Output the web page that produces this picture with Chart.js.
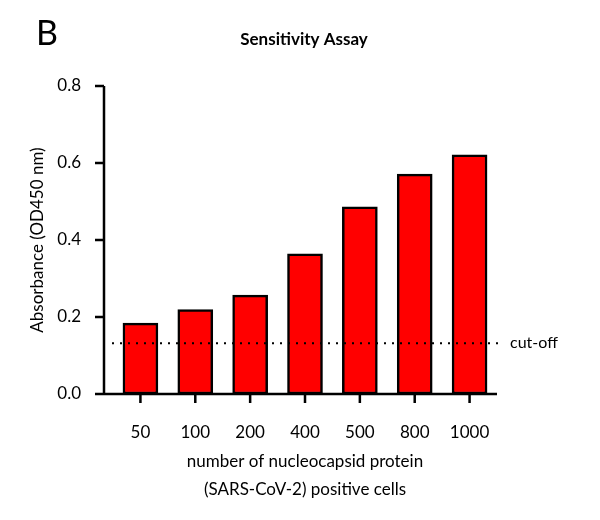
<!DOCTYPE html>
<html>
<head>
<script src="https://cdn.jsdelivr.net/npm/chart.js@4"></script>
<style>body{margin:0;background:#fff}</style>
</head>
<body>
<canvas id="c" width="600" height="520"></canvas>
<script>
const cells = ['50', '100', '200', '400', '500', '800', '1000'];
const absorbance = [0.184, 0.219, 0.257, 0.364, 0.486, 0.571, 0.621];
const cutOff = 0.132;
const yTicks = [0, 0.2, 0.4, 0.6, 0.8];

const font = 'Lato, "DejaVu Sans", sans-serif';

// axes, cut-off line and extra text drawn by hand
const decor = {
  id: 'decor',
  afterDraw(chart) {
    const ctx = chart.ctx, a = chart.chartArea;
    const x = chart.scales.x, y = chart.scales.y;
    const ax = a.left - 9;
    ctx.save();
    ctx.strokeStyle = '#000';
    ctx.lineWidth = 2.5;
    ctx.beginPath();
    ctx.moveTo(ax, y.getPixelForValue(0.8));
    ctx.lineTo(ax, a.bottom);
    ctx.lineTo(a.right, a.bottom);
    yTicks.forEach(v => {
      const py = y.getPixelForValue(v);
      ctx.moveTo(ax - 9, py); ctx.lineTo(ax, py);
    });
    cells.forEach((c, i) => {
      const px = x.getPixelForValue(i);
      ctx.moveTo(px, a.bottom); ctx.lineTo(px, a.bottom + 9);
    });
    ctx.stroke();

    const cy = y.getPixelForValue(cutOff);
    ctx.lineWidth = 2;
    ctx.setLineDash([2, 6]);
    ctx.beginPath();
    ctx.moveTo(ax + 8, cy); ctx.lineTo(a.right + 4, cy);
    ctx.stroke();
    ctx.setLineDash([]);

    ctx.fillStyle = '#000';
    ctx.textBaseline = 'middle';
    ctx.font = '16px ' + font;
    ctx.fillText('cut-off', 510, cy);
    ctx.font = '34px ' + font;
    ctx.fillText('B', 36, 34);
    ctx.font = 'bold 17px ' + font;
    ctx.textAlign = 'center';
    ctx.fillText('Sensitivity Assay', 304, 40);
    ctx.font = '17px ' + font;
    ctx.fillText('number of nucleocapsid protein', 305, 462);
    ctx.fillText('(SARS-CoV-2) positive cells', 305, 490);
    ctx.translate(38, 240);
    ctx.rotate(-Math.PI / 2);
    ctx.fillText('Absorbance (OD450 nm)', 0, 0);
    ctx.restore();
  }
};

new Chart(document.getElementById('c'), {
  type: 'bar',
  data: {
    labels: cells,
    datasets: [{
      data: absorbance,
      backgroundColor: '#ff0000',
      borderColor: '#000',
      borderWidth: 2.5,
      borderSkipped: false,
      barThickness: 35
    }]
  },
  options: {
    responsive: false,
    animation: false,
    layout: { padding: { top: 86, right: 103, left: 0, bottom: 0 } },
    plugins: { legend: { display: false }, tooltip: { enabled: false } },
    scales: {
      x: {
        grid: { display: false }, border: { display: false },
        ticks: { color: '#000', font: { size: 17, family: font }, padding: 20 },
        afterFit(s) { s.height = 126; }
      },
      y: {
        min: 0, max: 0.8,
        grid: { display: false }, border: { display: false },
        ticks: {
          color: '#000', font: { size: 17, family: font }, padding: 24,
          stepSize: 0.2, callback: v => v.toFixed(1)
        },
        afterFit(s) { s.width = 113; }
      }
    }
  },
  plugins: [decor]
});
</script>
</body>
</html>
